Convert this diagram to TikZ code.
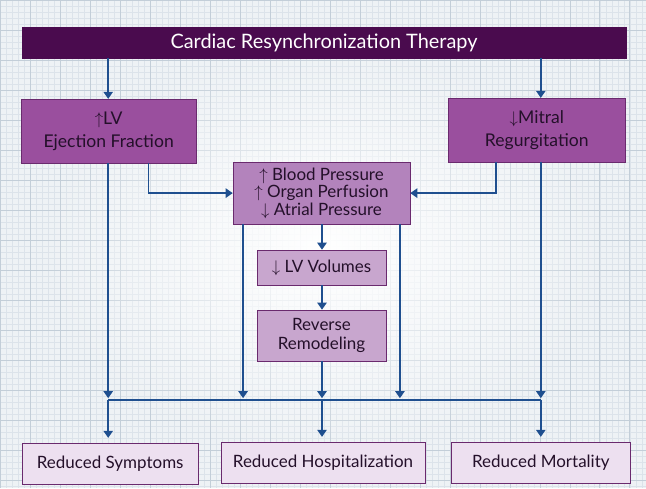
\documentclass[tikz,border=0pt]{standalone}
\usepackage{fontspec}
\setmainfont{Lato}
\usetikzlibrary{arrows.meta,fadings}

\definecolor{plumdark}{HTML}{4A0B4E}
\definecolor{plummid}{HTML}{9A4F9E}
\definecolor{plumline}{HTML}{6A2A6E}
\definecolor{plumsoft}{HTML}{B383BC}
\definecolor{plumpale}{HTML}{C8A6CE}
\definecolor{plumwash}{HTML}{EDE0F0}
\definecolor{plumtext}{HTML}{24102A}
\definecolor{arrowblue}{HTML}{1F4F8F}
\definecolor{gridminor}{HTML}{DCE3EA}
\definecolor{gridmajor}{HTML}{C3CED8}
\definecolor{paper}{HTML}{EEF2F5}

\tikzfading[name=glow, inner color=transparent!0, outer color=transparent!100]

\begin{document}
\begin{tikzpicture}[x=0.03cm,y=-0.03cm,
  box/.style = {rectangle, draw=plumline, line width=0.6pt, text=plumtext, align=center, inner sep=2pt},
  headbar/.style = {rectangle, fill=plumdark, draw=plumdark, text=white, minimum width=18.12cm, minimum height=0.93cm, font=\fontsize{17}{20}\selectfont},
  effect/.style = {box, fill=plummid, minimum height=1.92cm, font=\fontsize{15}{19.5}\selectfont},
  hemo/.style = {box, fill=plumsoft, font=\fontsize{14.5}{15}\selectfont},
  remod/.style = {box, fill=plumpale, minimum width=3.87cm, font=\fontsize{14.5}{17}\selectfont},
  outcome/.style = {box, fill=plumwash, minimum height=1.23cm, font=\fontsize{14.5}{17}\selectfont},
  arr/.style = {draw=arrowblue, line width=1.2pt, -{Triangle[width=8pt,length=6pt]}, arrowblue},
  bus/.style = {draw=arrowblue, line width=1.2pt},]

% graph paper background
\fill[paper] (0,0) rectangle (646,488);
\draw[gridminor, line width=0.3pt, step=0.18cm] (0,0) grid (646,488);
\draw[gridmajor, line width=0.5pt, step=0.9cm] (0,0) grid (646,488);
\fill[white, path fading=glow] (323,250) ellipse [x radius=8.5cm, y radius=6.2cm];

\node[headbar] (crt) at (324,42.5) {Cardiac Resynchronization Therapy};

\node[effect, minimum width=5.25cm] (lvef) at (108.5,131) {$\uparrow$LV\\Ejection Fraction};
\node[effect, minimum width=5.34cm] (mitral) at (537,130) {$\downarrow$Mitral\\Regurgitation};

\node[hemo, minimum width=5.31cm, minimum height=1.86cm] (bp) at (321.5,193) {$\uparrow$ Blood Pressure\\$\uparrow$ Organ Perfusion\\$\downarrow$ Atrial Pressure};
\node[remod, minimum height=1.05cm] (vol) at (321.5,267.5) {$\downarrow$ LV Volumes};
\node[remod, minimum height=1.53cm] (rr) at (321.5,335.5) {Reverse\\Remodeling};

\node[outcome, minimum width=5.28cm] (symp) at (110,463.5) {Reduced Symptoms};
\node[outcome, minimum width=6.12cm] (hosp) at (323,462.5) {Reduced Hospitalization};
\node[outcome, minimum width=5.4cm] (mort) at (541,462.5) {Reduced Mortality};

\coordinate (busL) at (108,400);
\coordinate (busA) at (243,400);
\coordinate (busC) at (322,400);
\coordinate (busB) at (400,400);
\coordinate (busR) at (541,400);

% therapy to first effects
\draw[arr] (crt.south -| busL) -- (lvef.north -| busL);
\draw[arr] (crt.south -| busR) -- (mitral.north -| busR);

% effects to hemodynamics
\draw[arr] ([xshift=1.2cm]lvef.south) |- (bp.west);
\draw[arr] ([xshift=-1.23cm]mitral.south) |- (bp.east);
\draw[arr] (bp.south -| busC) -- (vol.north -| busC);
\draw[arr] (vol.south -| busC) -- (rr.north -| busC);

% collecting line
\draw[bus] (busL) -- (busR);
\draw[arr, shorten >=1.5pt] (lvef.south -| busL) -- (busL);
\draw[arr, shorten >=1.5pt] (bp.south -| busA) -- (busA);
\draw[arr, shorten >=1.5pt] (rr.south -| busC) -- (busC);
\draw[arr, shorten >=1.5pt] (bp.south -| busB) -- (busB);
\draw[arr, shorten >=1.5pt] (mitral.south -| busR) -- (busR);

% outcomes
\draw[arr, shorten >=4pt] (busL) -- (symp.north -| busL);
\draw[arr, shorten >=4pt] (busC) -- (hosp.north -| busC);
\draw[arr, shorten >=4pt] (busR) -- (mort.north -| busR);

\end{tikzpicture}
\end{document}
